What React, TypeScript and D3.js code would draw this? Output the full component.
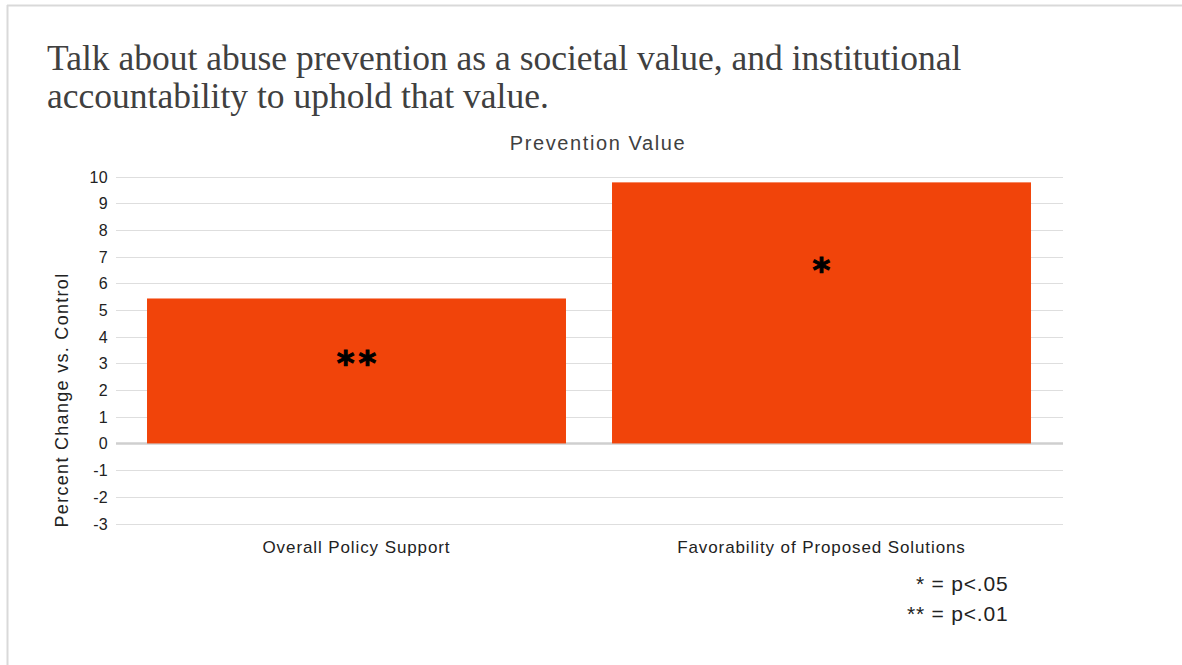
import React from "react";
import * as d3 from "d3";

const categories = ["Overall Policy Support", "Favorability of Proposed Solutions"];
const values = [5.43, 9.78];
const sigLabels = ["**", "*"];
const sigLabelAt = [2.55, 6.05];
const yTicks = [10, 9, 8, 7, 6, 5, 4, 3, 2, 1, 0, -1, -2, -3];
const titleLines = [
  "Talk about abuse prevention as a societal value, and institutional",
  "accountability to uphold that value.",
];
const chartTitle = "Prevention Value";
const yAxisTitle = "Percent Change vs. Control";
const legendLines = ["* = p<.05", "** = p<.01"];

const W = 1182;
const H = 665;
const SANS = "'Liberation Sans', Arial, sans-serif";
const SERIF = "'Liberation Serif', 'Times New Roman', serif";

export default function App() {
  const y = d3.scaleLinear().domain([-3, 10]).range([523.5, 176.5]);
  const x = d3
    .scaleBand<string>()
    .domain(categories)
    .range([124, 1054])
    .paddingInner(0.099)
    .paddingOuter(0.0495);
  const gridX0 = 116;
  const gridX1 = 1063;

  return (
    <div style={{ position: "absolute", left: 0, top: 0 }}>
      <svg width={W} height={H} style={{ display: "block", background: "#fff" }}>
        {/* frame */}
        <line x1={7.5} y1={5} x2={7.5} y2={H} stroke="#d9d9d9" strokeWidth={2} />
        <line x1={7} y1={5.5} x2={W} y2={5.5} stroke="#d9d9d9" strokeWidth={2} />

        {/* title */}
        {titleLines.map((t, i) => (
          <text
            key={i}
            x={47}
            y={70 + i * 38}
            fontFamily={SERIF}
            fontSize={35.5}
            fill="#404040"
          >
            {t}
          </text>
        ))}

        <text
          x={598}
          y={150}
          textAnchor="middle"
          fontFamily={SANS}
          fontSize={20}
          fill="#404040"
          letterSpacing={1.6}
        >
          {chartTitle}
        </text>

        {/* gridlines */}
        {yTicks.map((t) => (
          <line
            key={t}
            x1={gridX0}
            x2={gridX1}
            y1={Math.round(y(t)) + 0.5}
            y2={Math.round(y(t)) + 0.5}
            stroke={t === 0 ? "#cfcfcf" : "#dedede"}
            strokeWidth={t === 0 ? 2.5 : 1}
          />
        ))}

        {/* tick labels */}
        {yTicks.map((t) => (
          <text
            key={"l" + t}
            x={108}
            y={y(t) + 6}
            textAnchor="end"
            fontFamily={SANS}
            fontSize={16}
            fill="#222"
            letterSpacing={0.3}
          >
            {t}
          </text>
        ))}

        {/* y axis title */}
        <text
          transform={`translate(68, 400) rotate(-90)`}
          textAnchor="middle"
          fontFamily={SANS}
          fontSize={18}
          fill="#222"
          letterSpacing={1.3}
        >
          {yAxisTitle}
        </text>

        {/* bars */}
        {categories.map((c, i) => (
          <rect
            key={c}
            x={x(c)}
            width={x.bandwidth()}
            y={y(values[i])}
            height={y(0) - y(values[i])}
            fill="#F1440A"
          />
        ))}

        {/* significance labels */}
        {categories.map((c, i) => (
          <text
            key={"s" + c}
            x={(x(c) as number) + x.bandwidth() / 2}
            y={y(sigLabelAt[i])}
            textAnchor="middle"
            fontFamily="'DejaVu Sans', sans-serif"
            fontWeight="bold"
            fontSize={34}
            fill="#000"
            stroke="#000"
            strokeWidth={1}
          >
            {sigLabels[i].split("").map((s, k) => (
              <tspan key={k} dx={k > 0 ? 4 : 0}>
                {s}
              </tspan>
            ))}
          </text>
        ))}

        {/* category labels */}
        {categories.map((c) => (
          <text
            key={"c" + c}
            x={(x(c) as number) + x.bandwidth() / 2}
            y={553}
            textAnchor="middle"
            fontFamily={SANS}
            fontSize={17}
            fill="#222"
            letterSpacing={0.9}
          >
            {c}
          </text>
        ))}

        {/* legend */}
        {legendLines.map((l, i) => (
          <text
            key={l}
            x={i === 0 ? 916 : 907}
            y={591 + i * 30}
            fontFamily={SANS}
            fontSize={21}
            fill="#222"
            letterSpacing={0.8}
          >
            {l}
          </text>
        ))}
      </svg>
    </div>
  );
}
